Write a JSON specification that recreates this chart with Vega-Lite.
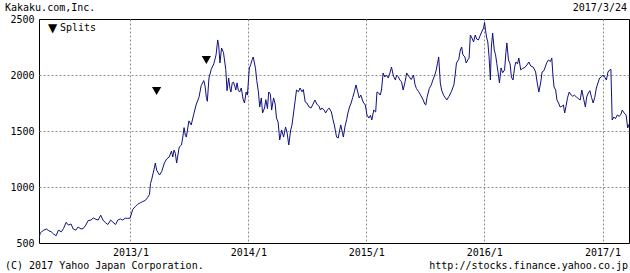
{
  "$schema": "https://vega.github.io/schema/vega-lite/v6.json",
  "width": 590,
  "height": 224,
  "autosize": "none",
  "padding": {"left": 39, "top": 19, "right": 1, "bottom": 30},
  "background": "white",
  "config": {
    "view": {"stroke": "black", "strokeWidth": 1},
    "font": "DejaVu Sans Mono"
  },
  "datasets": {
    "price": [
      {"d": "2012-03-24", "v": 545}, {"d": "2012-03-28", "v": 590}, {"d": "2012-04-01", "v": 600}, {"d": "2012-04-08", "v": 615},
      {"d": "2012-04-16", "v": 625}, {"d": "2012-04-23", "v": 610}, {"d": "2012-05-01", "v": 600}, {"d": "2012-05-08", "v": 580},
      {"d": "2012-05-16", "v": 565}, {"d": "2012-05-23", "v": 615}, {"d": "2012-06-01", "v": 600}, {"d": "2012-06-08", "v": 630},
      {"d": "2012-06-16", "v": 685}, {"d": "2012-06-23", "v": 660}, {"d": "2012-07-01", "v": 670}, {"d": "2012-07-08", "v": 625},
      {"d": "2012-07-16", "v": 615}, {"d": "2012-07-23", "v": 643}, {"d": "2012-08-01", "v": 625}, {"d": "2012-08-08", "v": 630},
      {"d": "2012-08-16", "v": 660}, {"d": "2012-08-23", "v": 700}, {"d": "2012-09-01", "v": 705}, {"d": "2012-09-08", "v": 723},
      {"d": "2012-09-16", "v": 712}, {"d": "2012-09-23", "v": 705}, {"d": "2012-10-01", "v": 748}, {"d": "2012-10-08", "v": 705},
      {"d": "2012-10-16", "v": 680}, {"d": "2012-10-23", "v": 665}, {"d": "2012-11-01", "v": 705}, {"d": "2012-11-08", "v": 685},
      {"d": "2012-11-16", "v": 665}, {"d": "2012-11-23", "v": 705}, {"d": "2012-12-01", "v": 715}, {"d": "2012-12-08", "v": 705},
      {"d": "2012-12-16", "v": 722}, {"d": "2012-12-23", "v": 720}, {"d": "2012-12-31", "v": 722},
      {"d": "2013-01-08", "v": 800}, {"d": "2013-01-16", "v": 825}, {"d": "2013-01-23", "v": 845}, {"d": "2013-02-01", "v": 860},
      {"d": "2013-02-08", "v": 870}, {"d": "2013-02-16", "v": 880}, {"d": "2013-02-23", "v": 905}, {"d": "2013-03-01", "v": 935},
      {"d": "2013-03-04", "v": 1030}, {"d": "2013-03-08", "v": 1070}, {"d": "2013-03-12", "v": 1120}, {"d": "2013-03-16", "v": 1170},
      {"d": "2013-03-19", "v": 1214}, {"d": "2013-03-23", "v": 1150}, {"d": "2013-04-01", "v": 1107}, {"d": "2013-04-08", "v": 1140},
      {"d": "2013-04-16", "v": 1214}, {"d": "2013-04-23", "v": 1250}, {"d": "2013-05-01", "v": 1268}, {"d": "2013-05-08", "v": 1320},
      {"d": "2013-05-12", "v": 1268}, {"d": "2013-05-16", "v": 1330}, {"d": "2013-05-20", "v": 1300}, {"d": "2013-05-24", "v": 1214},
      {"d": "2013-06-01", "v": 1357}, {"d": "2013-06-08", "v": 1375}, {"d": "2013-06-12", "v": 1446}, {"d": "2013-06-16", "v": 1530},
      {"d": "2013-06-20", "v": 1460}, {"d": "2013-06-23", "v": 1446}, {"d": "2013-07-01", "v": 1590}, {"d": "2013-07-08", "v": 1554},
      {"d": "2013-07-16", "v": 1650}, {"d": "2013-07-23", "v": 1732}, {"d": "2013-08-01", "v": 1800}, {"d": "2013-08-08", "v": 1905},
      {"d": "2013-08-16", "v": 1950}, {"d": "2013-08-20", "v": 1900}, {"d": "2013-08-24", "v": 1800}, {"d": "2013-08-27", "v": 1765},
      {"d": "2013-09-01", "v": 1973}, {"d": "2013-09-08", "v": 2050}, {"d": "2013-09-16", "v": 2100}, {"d": "2013-09-23", "v": 2180},
      {"d": "2013-09-28", "v": 2313}, {"d": "2013-10-01", "v": 2270}, {"d": "2013-10-05", "v": 2107}, {"d": "2013-10-10", "v": 2241},
      {"d": "2013-10-16", "v": 2200}, {"d": "2013-10-23", "v": 2050}, {"d": "2013-10-27", "v": 1860}, {"d": "2013-11-01", "v": 1973},
      {"d": "2013-11-05", "v": 1880}, {"d": "2013-11-08", "v": 1848}, {"d": "2013-11-12", "v": 1929}, {"d": "2013-11-16", "v": 1937},
      {"d": "2013-11-20", "v": 1900}, {"d": "2013-11-23", "v": 1866}, {"d": "2013-11-27", "v": 1930}, {"d": "2013-12-01", "v": 1860},
      {"d": "2013-12-05", "v": 1848}, {"d": "2013-12-10", "v": 1884}, {"d": "2013-12-16", "v": 1780}, {"d": "2013-12-20", "v": 1750},
      {"d": "2013-12-25", "v": 1848}, {"d": "2013-12-29", "v": 1821},
      {"d": "2014-01-04", "v": 2063}, {"d": "2014-01-08", "v": 2090}, {"d": "2014-01-13", "v": 2140}, {"d": "2014-01-16", "v": 2161},
      {"d": "2014-01-23", "v": 2060}, {"d": "2014-01-27", "v": 1950}, {"d": "2014-02-01", "v": 1850}, {"d": "2014-02-05", "v": 1714},
      {"d": "2014-02-10", "v": 1795}, {"d": "2014-02-14", "v": 1661}, {"d": "2014-02-20", "v": 1705}, {"d": "2014-02-24", "v": 1780},
      {"d": "2014-03-01", "v": 1700}, {"d": "2014-03-05", "v": 1848}, {"d": "2014-03-10", "v": 1830}, {"d": "2014-03-14", "v": 1687},
      {"d": "2014-03-20", "v": 1795}, {"d": "2014-03-25", "v": 1740}, {"d": "2014-03-29", "v": 1616}, {"d": "2014-04-03", "v": 1580},
      {"d": "2014-04-08", "v": 1420}, {"d": "2014-04-14", "v": 1509}, {"d": "2014-04-20", "v": 1446}, {"d": "2014-04-26", "v": 1536},
      {"d": "2014-05-01", "v": 1482}, {"d": "2014-05-06", "v": 1375}, {"d": "2014-05-12", "v": 1509}, {"d": "2014-05-16", "v": 1554},
      {"d": "2014-05-22", "v": 1687}, {"d": "2014-05-30", "v": 1866}, {"d": "2014-06-05", "v": 1850}, {"d": "2014-06-10", "v": 1884},
      {"d": "2014-06-16", "v": 1850}, {"d": "2014-06-20", "v": 1870}, {"d": "2014-06-26", "v": 1759}, {"d": "2014-07-01", "v": 1750},
      {"d": "2014-07-08", "v": 1714}, {"d": "2014-07-14", "v": 1705}, {"d": "2014-07-20", "v": 1740}, {"d": "2014-07-26", "v": 1777},
      {"d": "2014-08-01", "v": 1740}, {"d": "2014-08-08", "v": 1720}, {"d": "2014-08-12", "v": 1687}, {"d": "2014-08-16", "v": 1705},
      {"d": "2014-08-23", "v": 1690}, {"d": "2014-08-28", "v": 1661}, {"d": "2014-09-03", "v": 1690}, {"d": "2014-09-08", "v": 1705},
      {"d": "2014-09-15", "v": 1670}, {"d": "2014-09-20", "v": 1600}, {"d": "2014-09-24", "v": 1554}, {"d": "2014-09-28", "v": 1491},
      {"d": "2014-10-01", "v": 1446}, {"d": "2014-10-06", "v": 1437}, {"d": "2014-10-10", "v": 1500}, {"d": "2014-10-14", "v": 1554},
      {"d": "2014-10-18", "v": 1500}, {"d": "2014-10-22", "v": 1446}, {"d": "2014-10-27", "v": 1540}, {"d": "2014-11-01", "v": 1600},
      {"d": "2014-11-05", "v": 1660}, {"d": "2014-11-10", "v": 1714}, {"d": "2014-11-15", "v": 1750}, {"d": "2014-11-20", "v": 1800},
      {"d": "2014-11-25", "v": 1850}, {"d": "2014-11-30", "v": 1911}, {"d": "2014-12-04", "v": 1866}, {"d": "2014-12-10", "v": 1795},
      {"d": "2014-12-15", "v": 1821}, {"d": "2014-12-22", "v": 1759}, {"d": "2014-12-29", "v": 1732},
      {"d": "2015-01-03", "v": 1643}, {"d": "2015-01-09", "v": 1616}, {"d": "2015-01-14", "v": 1640}, {"d": "2015-01-18", "v": 1598},
      {"d": "2015-01-24", "v": 1687}, {"d": "2015-01-30", "v": 1670}, {"d": "2015-02-03", "v": 1848}, {"d": "2015-02-08", "v": 1840},
      {"d": "2015-02-13", "v": 1821}, {"d": "2015-02-17", "v": 1866}, {"d": "2015-02-22", "v": 2018}, {"d": "2015-02-27", "v": 1982},
      {"d": "2015-03-04", "v": 2000}, {"d": "2015-03-10", "v": 1973}, {"d": "2015-03-15", "v": 2018}, {"d": "2015-03-20", "v": 2071},
      {"d": "2015-03-26", "v": 1990}, {"d": "2015-04-01", "v": 1955}, {"d": "2015-04-05", "v": 2000}, {"d": "2015-04-10", "v": 1985},
      {"d": "2015-04-15", "v": 1955}, {"d": "2015-04-20", "v": 1940}, {"d": "2015-04-25", "v": 1866}, {"d": "2015-05-01", "v": 1940},
      {"d": "2015-05-06", "v": 2018}, {"d": "2015-05-12", "v": 1990}, {"d": "2015-05-20", "v": 1960}, {"d": "2015-05-27", "v": 2000},
      {"d": "2015-06-01", "v": 1911}, {"d": "2015-06-05", "v": 1880}, {"d": "2015-06-12", "v": 1850}, {"d": "2015-06-18", "v": 1821},
      {"d": "2015-06-26", "v": 1777}, {"d": "2015-07-01", "v": 1740}, {"d": "2015-07-04", "v": 1732}, {"d": "2015-07-08", "v": 1800},
      {"d": "2015-07-15", "v": 1880}, {"d": "2015-07-21", "v": 1911}, {"d": "2015-07-26", "v": 1955}, {"d": "2015-08-01", "v": 2000},
      {"d": "2015-08-05", "v": 2040}, {"d": "2015-08-09", "v": 2100}, {"d": "2015-08-13", "v": 2161}, {"d": "2015-08-18", "v": 1929},
      {"d": "2015-08-22", "v": 1866}, {"d": "2015-08-28", "v": 1820}, {"d": "2015-09-03", "v": 1795}, {"d": "2015-09-07", "v": 1777},
      {"d": "2015-09-14", "v": 1810}, {"d": "2015-09-21", "v": 1850}, {"d": "2015-09-29", "v": 1911}, {"d": "2015-10-03", "v": 2000},
      {"d": "2015-10-07", "v": 2107}, {"d": "2015-10-14", "v": 2140}, {"d": "2015-10-19", "v": 2223}, {"d": "2015-10-23", "v": 2250},
      {"d": "2015-10-27", "v": 2180}, {"d": "2015-11-02", "v": 2161}, {"d": "2015-11-06", "v": 2107}, {"d": "2015-11-11", "v": 2134},
      {"d": "2015-11-15", "v": 2150}, {"d": "2015-11-19", "v": 2357}, {"d": "2015-11-24", "v": 2330}, {"d": "2015-11-29", "v": 2295},
      {"d": "2015-12-04", "v": 2357}, {"d": "2015-12-09", "v": 2320}, {"d": "2015-12-14", "v": 2313}, {"d": "2015-12-19", "v": 2350},
      {"d": "2015-12-24", "v": 2384}, {"d": "2015-12-30", "v": 2420},
      {"d": "2016-01-02", "v": 2470}, {"d": "2016-01-05", "v": 2400}, {"d": "2016-01-08", "v": 2339}, {"d": "2016-01-12", "v": 2295},
      {"d": "2016-01-16", "v": 2161}, {"d": "2016-01-20", "v": 1955}, {"d": "2016-01-23", "v": 2250}, {"d": "2016-01-27", "v": 2375},
      {"d": "2016-02-01", "v": 2223}, {"d": "2016-02-05", "v": 2180}, {"d": "2016-02-09", "v": 2100}, {"d": "2016-02-13", "v": 2018},
      {"d": "2016-02-17", "v": 1929}, {"d": "2016-02-22", "v": 2063}, {"d": "2016-02-27", "v": 2020}, {"d": "2016-03-04", "v": 2045},
      {"d": "2016-03-08", "v": 2200}, {"d": "2016-03-11", "v": 2286}, {"d": "2016-03-16", "v": 2134}, {"d": "2016-03-21", "v": 2100},
      {"d": "2016-03-25", "v": 1982}, {"d": "2016-03-30", "v": 1955}, {"d": "2016-04-04", "v": 2070}, {"d": "2016-04-08", "v": 2116},
      {"d": "2016-04-13", "v": 2100}, {"d": "2016-04-17", "v": 2152}, {"d": "2016-04-23", "v": 2045}, {"d": "2016-04-29", "v": 2060},
      {"d": "2016-05-04", "v": 2063}, {"d": "2016-05-12", "v": 2089}, {"d": "2016-05-18", "v": 2116}, {"d": "2016-05-24", "v": 2080},
      {"d": "2016-06-01", "v": 2070}, {"d": "2016-06-08", "v": 2027}, {"d": "2016-06-13", "v": 1929}, {"d": "2016-06-18", "v": 1848},
      {"d": "2016-06-24", "v": 1937}, {"d": "2016-06-28", "v": 2027}, {"d": "2016-07-04", "v": 2040}, {"d": "2016-07-12", "v": 2107},
      {"d": "2016-07-18", "v": 2134}, {"d": "2016-07-24", "v": 2120}, {"d": "2016-07-28", "v": 2152}, {"d": "2016-08-01", "v": 1982},
      {"d": "2016-08-04", "v": 1893}, {"d": "2016-08-09", "v": 1866}, {"d": "2016-08-13", "v": 1777}, {"d": "2016-08-18", "v": 1750},
      {"d": "2016-08-23", "v": 1714}, {"d": "2016-08-28", "v": 1720}, {"d": "2016-09-02", "v": 1732}, {"d": "2016-09-06", "v": 1661},
      {"d": "2016-09-10", "v": 1720}, {"d": "2016-09-15", "v": 1800}, {"d": "2016-09-20", "v": 1848}, {"d": "2016-09-26", "v": 1821},
      {"d": "2016-10-01", "v": 1810}, {"d": "2016-10-06", "v": 1820}, {"d": "2016-10-12", "v": 1804}, {"d": "2016-10-18", "v": 1790},
      {"d": "2016-10-24", "v": 1777}, {"d": "2016-10-29", "v": 1866}, {"d": "2016-11-03", "v": 1795}, {"d": "2016-11-09", "v": 1714},
      {"d": "2016-11-13", "v": 1804}, {"d": "2016-11-18", "v": 1839}, {"d": "2016-11-23", "v": 1860}, {"d": "2016-11-28", "v": 1800},
      {"d": "2016-12-03", "v": 1750}, {"d": "2016-12-08", "v": 1800}, {"d": "2016-12-13", "v": 1884}, {"d": "2016-12-18", "v": 1929},
      {"d": "2016-12-23", "v": 1973}, {"d": "2016-12-28", "v": 1982},
      {"d": "2017-01-03", "v": 2000}, {"d": "2017-01-08", "v": 1980}, {"d": "2017-01-13", "v": 1955}, {"d": "2017-01-18", "v": 2027},
      {"d": "2017-01-23", "v": 2045}, {"d": "2017-01-27", "v": 2050}, {"d": "2017-01-31", "v": 1598}, {"d": "2017-02-05", "v": 1625},
      {"d": "2017-02-10", "v": 1610}, {"d": "2017-02-16", "v": 1643}, {"d": "2017-02-22", "v": 1630}, {"d": "2017-02-27", "v": 1650},
      {"d": "2017-03-03", "v": 1687}, {"d": "2017-03-09", "v": 1661}, {"d": "2017-03-15", "v": 1643}, {"d": "2017-03-20", "v": 1527},
      {"d": "2017-03-24", "v": 1560}
    ],
    "splits": [
      {"d": "2013-03-23", "v": 1857},
      {"d": "2013-08-24", "v": 2134}
    ]
  },
  "layer": [
    {
      "data": {"name": "price"},
      "mark": {"type": "line", "color": "#10107e", "strokeWidth": 1, "clip": true},
      "encoding": {
        "x": {
          "field": "d", "type": "temporal",
          "scale": {"type": "utc", "domain": [{"year": 2012, "month": 3, "date": 24, "utc": true}, {"year": 2017, "month": 3, "date": 24, "utc": true}]},
          "axis": {
            "title": null,
            "values": [
              {"year": 2013, "month": 1, "date": 1, "utc": true},
              {"year": 2014, "month": 1, "date": 1, "utc": true},
              {"year": 2015, "month": 1, "date": 1, "utc": true},
              {"year": 2016, "month": 1, "date": 1, "utc": true},
              {"year": 2017, "month": 1, "date": 1, "utc": true}
            ],
            "labelExpr": "utcFormat(datum.value, '%Y/%-m')",
            "labelFont": "DejaVu Sans Mono", "labelFontSize": 10, "labelColor": "black",
            "labelPadding": 4, "labelDx": -4,
            "ticks": false, "domain": false,
            "grid": true, "gridColor": "#8c8c8c", "gridDash": [2, 2], "gridWidth": 1
          }
        },
        "y": {
          "field": "v", "type": "quantitative",
          "scale": {"domain": [500, 2500], "nice": false, "zero": false},
          "axis": {
            "title": null,
            "values": [500, 1000, 1500, 2000, 2500],
            "format": "d",
            "labelFont": "DejaVu Sans Mono", "labelFontSize": 10, "labelColor": "black",
            "labelPadding": 5,
            "ticks": false, "domain": false,
            "grid": true, "gridColor": "#8c8c8c", "gridDash": [2, 2], "gridWidth": 1,
            "gridOpacity": {"condition": {"test": "datum.value == 500 || datum.value == 2500", "value": 0}, "value": 1}
          }
        }
      }
    },
    {
      "data": {"name": "splits"},
      "mark": {"type": "point", "shape": "triangle-down", "filled": true, "color": "black", "size": 85, "opacity": 1},
      "encoding": {
        "x": {"field": "d", "type": "temporal"},
        "y": {"field": "v", "type": "quantitative"}
      }
    },
    {
      "data": {"values": [{}]},
      "mark": {"type": "text", "text": "▼", "align": "left", "baseline": "middle", "dx": 9, "dy": 9, "font": "DejaVu Sans", "fontSize": 12, "color": "black"},
      "encoding": {
        "x": {"datum": {"year": 2012, "month": 3, "date": 24, "utc": true}, "type": "temporal"},
        "y": {"datum": 2500, "type": "quantitative"}
      }
    },
    {
      "data": {"values": [{}]},
      "mark": {"type": "text", "text": "Splits", "align": "left", "baseline": "middle", "dx": 21, "dy": 9, "font": "DejaVu Sans Mono", "fontSize": 10, "color": "black"},
      "encoding": {
        "x": {"datum": {"year": 2012, "month": 3, "date": 24, "utc": true}, "type": "temporal"},
        "y": {"datum": 2500, "type": "quantitative"}
      }
    },
    {
      "data": {"values": [{}]},
      "mark": {"type": "text", "text": "Kakaku.com,Inc.", "align": "left", "baseline": "middle", "dx": -34, "dy": -11, "font": "DejaVu Sans Mono", "fontSize": 10, "color": "black"},
      "encoding": {
        "x": {"datum": {"year": 2012, "month": 3, "date": 24, "utc": true}, "type": "temporal"},
        "y": {"datum": 2500, "type": "quantitative"}
      }
    },
    {
      "data": {"values": [{}]},
      "mark": {"type": "text", "text": "2017/3/24", "align": "right", "baseline": "middle", "dx": -2, "dy": -11, "font": "DejaVu Sans Mono", "fontSize": 10, "color": "black"},
      "encoding": {
        "x": {"datum": {"year": 2017, "month": 3, "date": 24, "utc": true}, "type": "temporal"},
        "y": {"datum": 2500, "type": "quantitative"}
      }
    },
    {
      "data": {"values": [{}]},
      "mark": {"type": "text", "text": "(C) 2017 Yahoo Japan Corporation.", "align": "left", "baseline": "middle", "dx": -34, "dy": 23, "font": "DejaVu Sans Mono", "fontSize": 10, "color": "black"},
      "encoding": {
        "x": {"datum": {"year": 2012, "month": 3, "date": 24, "utc": true}, "type": "temporal"},
        "y": {"datum": 500, "type": "quantitative"}
      }
    },
    {
      "data": {"values": [{}]},
      "mark": {"type": "text", "text": "http://stocks.finance.yahoo.co.jp", "align": "right", "baseline": "middle", "dx": -1, "dy": 23, "font": "DejaVu Sans Mono", "fontSize": 10, "color": "black"},
      "encoding": {
        "x": {"datum": {"year": 2017, "month": 3, "date": 24, "utc": true}, "type": "temporal"},
        "y": {"datum": 500, "type": "quantitative"}
      }
    }
  ]
}
